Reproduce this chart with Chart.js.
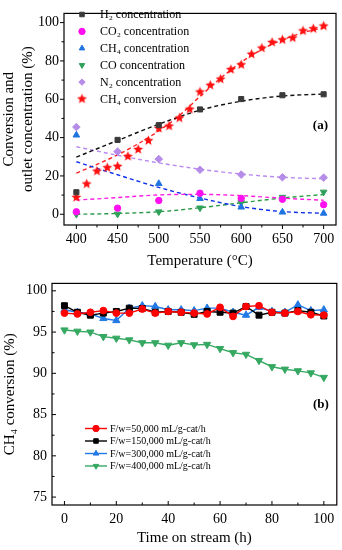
<!DOCTYPE html>
<html><head><meta charset="utf-8">
<script src="https://cdn.jsdelivr.net/npm/chart.js@4.4.0/dist/chart.umd.min.js"></script>
<style>
html,body{margin:0;padding:0;background:#fff;}
#wrap{position:relative;width:342px;height:550px;background:#fff;}
canvas{position:absolute;left:0;}
#chartA{top:0;}
#chartB{top:270px;}
</style></head><body>
<div id="wrap">
<canvas id="chartA" width="342" height="270"></canvas>
<canvas id="chartB" width="342" height="280"></canvas>
</div>
<script>
// ---------- Panel (a) data ----------
const temps = [400, 450, 500, 550, 600, 650, 700];
const h2Conc  = [11.5, 38.8, 46.5, 54.7, 60.1, 62.1, 62.6];
const co2Conc = [1.3, 3.2, 7.2, 11.0, 8.3, 7.8, 5.0];
const ch4Conc = [41.3, null, 16.0, 8.2, 3.7, 1.1, 0.5];
const coConc  = [0.0, 0.1, 1.3, 3.3, 6.1, 8.9, 11.6];
const n2Conc  = [45.5, 32.7, 28.8, 23.2, 20.7, 19.3, 19.1];
const convTemps = [400, 412.5, 425, 437.5, 450, 462.5, 475, 487.5, 500, 512.5, 525, 537.5, 550,
                   562.5, 575, 587.5, 600, 612.5, 625, 637.5, 650, 662.5, 675, 687.5, 700];
const ch4Conv = [8.8, 15.8, 22.5, 24.3, 25.0, 30.2, 33.8, 38.4, 44.8, 46.0, 50.2, 54.8, 63.8,
                 67.3, 70.5, 75.5, 78.0, 83.5, 86.7, 89.7, 91.0, 92.0, 95.7, 96.8, 98.2];
// fitted (dashed) curves
const fitTemps = [400, 450, 500, 550, 600, 650, 700];
const fitH2  = [29.8, 38.5, 47.0, 54.3, 59.0, 61.7, 62.7];
const fitCO2 = [7.4, 8.7, 10.1, 10.4, 9.7, 8.4, 7.3];
const fitCH4 = [27.4, 20.6, 14.0, 8.5, 4.0, 1.4, 0.5];
const fitCO  = [0.0, 0.4, 1.3, 3.4, 6.0, 8.5, 10.3];
const fitN2  = [35.2, 30.8, 26.8, 23.5, 21.0, 19.3, 18.5];
const fitConvTemps = [400, 425, 450, 475, 500, 525, 550, 575, 600, 625, 650, 675, 700];
const fitConv = [21.5, 26.0, 31.0, 36.8, 43.5, 51.5, 61.5, 71.0, 79.3, 86.0, 91.0, 94.8, 97.3];
const tempTicks = [400, 450, 500, 550, 600, 650, 700];
const pctTicks = [0, 20, 40, 60, 80, 100];

// ---------- Panel (b) data ----------
const timeH = [0, 5, 10, 15, 20, 25, 30, 35, 40, 45, 50, 55, 60, 65, 70, 75, 80, 85, 90, 95, 100];
const conv50k  = [97.3, 97.2, 97.4, 97.6, 97.3, 97.3, 97.8, 97.3, 97.5, 97.4, 97.3, 97.2, 98.0, 96.9, 98.1, 98.2, 97.4, 97.3, 97.5, 97.1, 97.05];
const conv150k = [98.2, 97.4, 97.05, 97.3, 97.5, 97.9, 97.85, 97.4, 97.5, 97.4, 97.15, 97.5, 97.4, 97.3, 98.1, 97.05, 97.4, 97.3, 97.6, 97.4, 96.95];
const conv300k = [97.7, 97.4, 97.2, 96.65, 96.4, 97.9, 98.2, 98.1, 97.7, 97.7, 97.6, 97.9, 97.9, 97.4, 97.05, 98.0, 97.5, 97.4, 98.3, 97.6, 97.7];
const conv400k = [95.25, 95.1, 95.0, 94.45, 94.25, 94.05, 93.7, 93.7, 93.4, 93.7, 93.45, 93.5, 93.0, 92.5, 92.3, 91.55, 90.8, 90.5, 90.3, 90.05, 89.5];
const timeTicks = [0, 20, 40, 60, 80, 100];
const convTicks = [75, 80, 85, 90, 95, 100];

const FONT = "'Liberation Serif','Times New Roman',serif";
const pts = (xs, ys) => xs.map((x, i) => ({x: x, y: ys[i]}));

function mkStar(r, color) {
  const s = Math.ceil(r * 2 + 2);
  const c = document.createElement('canvas'); c.width = s; c.height = s;
  const g = c.getContext('2d'); g.fillStyle = color; g.beginPath();
  for (let i = 0; i < 10; i++) {
    const rr = i % 2 ? r * 0.45 : r;
    const a = -Math.PI / 2 + i * Math.PI / 5;
    g.lineTo(s / 2 + rr * Math.cos(a), s / 2 + rr * Math.sin(a));
  }
  g.closePath(); g.fill();
  return c;
}
const starImg = mkStar(5.2, '#ff1010');

const framePlugin = {
  id: 'frame',
  afterDraw(chart, args, o) {
    const {ctx, chartArea: a, scales: {x, y}} = chart;
    ctx.save();
    ctx.strokeStyle = '#000'; ctx.lineWidth = 1.2; ctx.setLineDash([]);
    ctx.strokeRect(a.left, a.top, a.right - a.left, a.bottom - a.top);
    const d = o.inward ? -1 : 1;
    ctx.lineWidth = 1;
    ctx.beginPath();
    const xs = o.xTicks, ys = o.yTicks;
    const xm = [], ym = [];
    for (let i = 0; i < xs.length - 1; i++) xm.push((xs[i] + xs[i + 1]) / 2);
    for (let i = 0; i < ys.length - 1; i++) ym.push((ys[i] + ys[i + 1]) / 2);
    xs.forEach(v => { const p = x.getPixelForValue(v); ctx.moveTo(p, a.bottom); ctx.lineTo(p, a.bottom + d * 4); });
    xm.forEach(v => { const p = x.getPixelForValue(v); ctx.moveTo(p, a.bottom); ctx.lineTo(p, a.bottom + d * 2.5); });
    ys.forEach(v => { const p = y.getPixelForValue(v); ctx.moveTo(a.left, p); ctx.lineTo(a.left - d * 4, p); });
    ym.forEach(v => { const p = y.getPixelForValue(v); ctx.moveTo(a.left, p); ctx.lineTo(a.left - d * 2.5, p); });
    ctx.stroke();
    if (o.tag) {
      ctx.font = 'bold 13px ' + FONT; ctx.fillStyle = '#000';
      ctx.textAlign = 'right'; ctx.textBaseline = 'middle';
      ctx.fillText(o.tag, a.right - 8, o.tagY);
    }
    ctx.restore();
  }
};

const legendPlugin = {
  id: 'inlegend',
  afterDraw(chart, args, o) {
    if (!o || !o.items) return;
    const ctx = chart.ctx; ctx.save();
    ctx.font = o.font; ctx.textBaseline = 'middle'; ctx.textAlign = 'left';
    o.items.forEach((di, k) => {
      const ds = chart.data.datasets[di];
      const y = o.y + k * o.dy;
      ctx.setLineDash([]);
      if (o.line) {
        ctx.strokeStyle = ds.borderColor; ctx.lineWidth = 1.4;
        ctx.beginPath(); ctx.moveTo(o.lx0, y); ctx.lineTo(o.lx1, y); ctx.stroke();
      }
      ctx.fillStyle = ds.pointBackgroundColor;
      ctx.strokeStyle = ds.pointBorderColor;
      ctx.lineWidth = 1;
      Chart.helpers.drawPoint(ctx, {pointStyle: ds.pointStyle, radius: o.r ? o.r : ds.pointRadius,
        rotation: ds.pointRotation || 0, borderWidth: 1}, o.mx, y);
      ctx.fillStyle = '#000';
      ctx.fillText(ds.label, o.tx, y + 0.5);
    });
    ctx.restore();
  }
};

function markerSet(label, xs, ys, color, style, r, rot) {
  return {label, data: pts(xs, ys), showLine: false, pointStyle: style, pointRadius: r,
    pointRotation: rot || 0, pointBackgroundColor: color, pointBorderColor: color,
    pointBorderWidth: 1, backgroundColor: color, borderColor: color, order: 0};
}
function fitSet(label, xs, ys, color) {
  return {label, data: pts(xs, ys), showLine: true, pointRadius: 0, borderColor: color,
    borderWidth: 1.4, borderDash: [4, 3], cubicInterpolationMode: 'monotone', fill: false, order: 10};
}

const tickFont = {family: FONT, size: 14};
const titleFont = {family: FONT, size: 15};

new Chart(document.getElementById('chartA'), {
  type: 'scatter',
  data: {datasets: [
    markerSet('H₂ concentration', temps, h2Conc, '#3a3a3a', 'rect', 3.6),
    markerSet('CO₂ concentration', temps, co2Conc, '#ff10f0', 'circle', 3.2),
    markerSet('CH₄ concentration', temps, ch4Conc, '#1f74e0', 'triangle', 3.8),
    markerSet('CO concentration', temps, coConc, '#2fa05a', 'triangle', 3.8, 180),
    markerSet('N₂ concentration', temps, n2Conc, '#b58ce8', 'rectRot', 3.8),
    markerSet('CH₄ conversion', convTemps, ch4Conv, '#ff1010', starImg, 5),
    fitSet('fit H2', fitTemps, fitH2, '#111111'),
    fitSet('fit CO2', fitTemps, fitCO2, '#ff20e0'),
    fitSet('fit CH4', fitTemps, fitCH4, '#1030e8'),
    fitSet('fit CO', fitTemps, fitCO, '#2a9a48'),
    fitSet('fit N2', fitTemps, fitN2, '#b88af0'),
    fitSet('fit conv', fitConvTemps, fitConv, '#ff2020')
  ]},
  options: {
    responsive: false, devicePixelRatio: 1, animation: false,
    layout: {padding: {top: 3, right: 2, left: 0, bottom: 0}},
    plugins: {
      legend: {display: false}, tooltip: {enabled: false},
      frame: {inward: false, xTicks: tempTicks, yTicks: pctTicks, tag: '(a)', tagY: 126},
      inlegend: {items: [0, 1, 2, 3, 4, 5], font: '12px ' + FONT, y: 14.5, dy: 16.9, mx: 82, tx: 100, r: 3.2}
    },
    scales: {
      x: {type: 'linear', min: 385, max: 715,
        afterBuildTicks: s => { s.ticks = tempTicks.map(v => ({value: v})); },
        afterFit: s => { s.height = 45; },
        grid: {display: false, drawTicks: false}, border: {display: false},
        ticks: {font: tickFont, color: '#000', padding: 6, maxRotation: 0},
        title: {display: true, text: 'Temperature (°C)', font: titleFont, color: '#000', padding: {top: 0, bottom: 0}}
      },
      y: {type: 'linear', min: -5.6, max: 104.8,
        afterBuildTicks: s => { s.ticks = pctTicks.map(v => ({value: v})); },
        afterFit: s => { s.width = 64; },
        grid: {display: false, drawTicks: false}, border: {display: false},
        ticks: {font: tickFont, color: '#000', padding: 5},
        title: {display: true, text: ['Conversion and', 'outlet concentration (%)'],
          font: {family: FONT, size: 15, lineHeight: 1.25}, color: '#000', padding: {top: 0, bottom: 0}}
      }
    }
  },
  plugins: [framePlugin, legendPlugin]
});

function lineSet(label, ys, color, style, r, rot) {
  return {label, data: pts(timeH, ys), showLine: true, borderColor: color, borderWidth: 1.4,
    pointStyle: style, pointRadius: r, pointRotation: rot || 0, pointBackgroundColor: color,
    pointBorderColor: color, pointBorderWidth: 1, backgroundColor: color, tension: 0, fill: false};
}

new Chart(document.getElementById('chartB'), {
  type: 'scatter',
  data: {datasets: [
    lineSet('F/w=50,000 mL/g-cat/h', conv50k, '#ff0000', 'circle', 3.4),
    lineSet('F/w=150,000 mL/g-cat/h', conv150k, '#000000', 'rect', 4.2),
    lineSet('F/w=300,000 mL/g-cat/h', conv300k, '#2279e6', 'triangle', 4.2),
    lineSet('F/w=400,000 mL/g-cat/h', conv400k, '#35a862', 'triangle', 4.2, 180)
  ]},
  options: {
    responsive: false, devicePixelRatio: 1, animation: false,
    layout: {padding: {top: 3, right: 2, left: 0, bottom: 0}},
    plugins: {
      legend: {display: false}, tooltip: {enabled: false},
      frame: {inward: true, xTicks: timeTicks, yTicks: convTicks, tag: '(b)', tagY: 135},
      inlegend: {items: [0, 1, 2, 3], font: '10px ' + FONT, y: 158.5, dy: 12.5, mx: 96, tx: 110,
        line: true, lx0: 85, lx1: 107, r: 3.2}
    },
    scales: {
      x: {type: 'linear', min: -4.8, max: 105,
        afterBuildTicks: s => { s.ticks = timeTicks.map(v => ({value: v})); },
        afterFit: s => { s.height = 45; },
        grid: {display: false, drawTicks: false}, border: {display: false},
        ticks: {font: tickFont, color: '#000', padding: 6, maxRotation: 0},
        title: {display: true, text: 'Time on stream (h)', font: titleFont, color: '#000', padding: {top: 0, bottom: 3}}
      },
      y: {type: 'linear', min: 74.04, max: 100.9,
        afterBuildTicks: s => { s.ticks = convTicks.map(v => ({value: v})); },
        afterFit: s => { s.width = 52; },
        grid: {display: false, drawTicks: false}, border: {display: false},
        ticks: {font: tickFont, color: '#000', padding: 5},
        title: {display: true, text: 'CH₄ conversion (%)', font: titleFont, color: '#000', padding: {top: 1, bottom: 0}}
      }
    }
  },
  plugins: [framePlugin, legendPlugin]
});
</script>
</body></html>
